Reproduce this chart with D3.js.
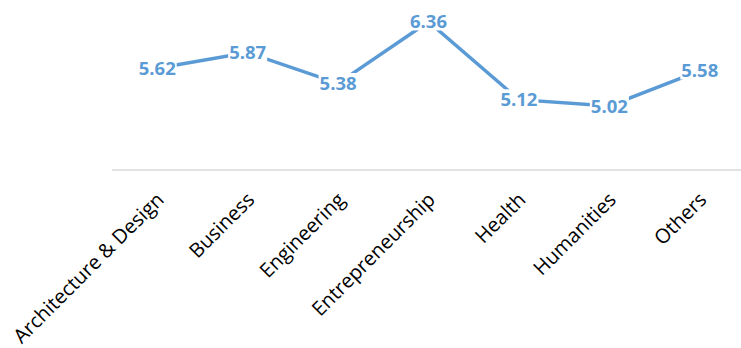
<!DOCTYPE html>
<html>
<head>
<meta charset="utf-8">
<script src="https://cdn.jsdelivr.net/npm/d3@7"></script>
<style>
  body { margin: 0; background: #fff; }
  .cat-label { font-family: "Open Sans", sans-serif; font-size: 20px; fill: #000; }
  .val-label { font-family: "Open Sans", sans-serif; font-size: 18.5px; font-weight: bold; fill: #5B9BD5; }
</style>
</head>
<body>
<div id="chart"></div>
<script>
// chart data
var categories = ["Architecture & Design", "Business", "Engineering", "Entrepreneurship", "Health", "Humanities", "Others"];
var values = [5.62, 5.87, 5.38, 6.36, 5.12, 5.02, 5.58];

var width = 741, height = 348;
var axisY = 170;

var svg = d3.select("#chart").append("svg")
    .attr("width", width)
    .attr("height", height);

// x as bands, plot area runs a bit past the right edge
var x = d3.scaleBand()
    .domain(categories)
    .range([112, 745]);

var y = d3.scaleLinear()
    .domain([4, 6.5])
    .range([axisY, 13]);

var cx = function(c){ return x(c) + x.bandwidth() / 2; };

// category axis line
svg.append("line")
    .attr("x1", 112).attr("x2", 745)
    .attr("y1", axisY).attr("y2", axisY)
    .attr("stroke", "#d9d9d9")
    .attr("stroke-width", 1.5);

// rotated category labels
svg.selectAll("text.cat-label")
    .data(categories)
    .enter().append("text")
    .attr("class", "cat-label")
    .attr("text-anchor", "end")
    .attr("transform", function(d){ return "translate(" + (cx(d) + 8) + "," + (axisY + 31) + ") rotate(-45)"; })
    .text(function(d){ return d; });

// line
var line = d3.line()
    .x(function(d, i){ return cx(categories[i]); })
    .y(function(d){ return y(d); });

svg.append("path")
    .datum(values)
    .attr("d", line)
    .attr("fill", "none")
    .attr("stroke", "#5B9BD5")
    .attr("stroke-width", 3.5);

// value labels with white boxes masking the line
var lab = svg.selectAll("g.val")
    .data(values)
    .enter().append("g")
    .attr("class", "val");

lab.append("rect").attr("fill", "#fff");
lab.append("text")
    .attr("class", "val-label")
    .attr("text-anchor", "middle")
    .attr("x", function(d, i){ return cx(categories[i]); })
    .attr("y", function(d){ return y(d); })
    .attr("dy", "0.36em")
    .text(function(d){ return d.toFixed(2); });

lab.each(function(){
    var g = d3.select(this);
    var bb = g.select("text").node().getBBox();
    g.select("rect")
        .attr("x", bb.x - 1).attr("y", bb.y + 3)
        .attr("width", bb.width + 2).attr("height", bb.height - 6);
});
</script>
</body>
</html>
